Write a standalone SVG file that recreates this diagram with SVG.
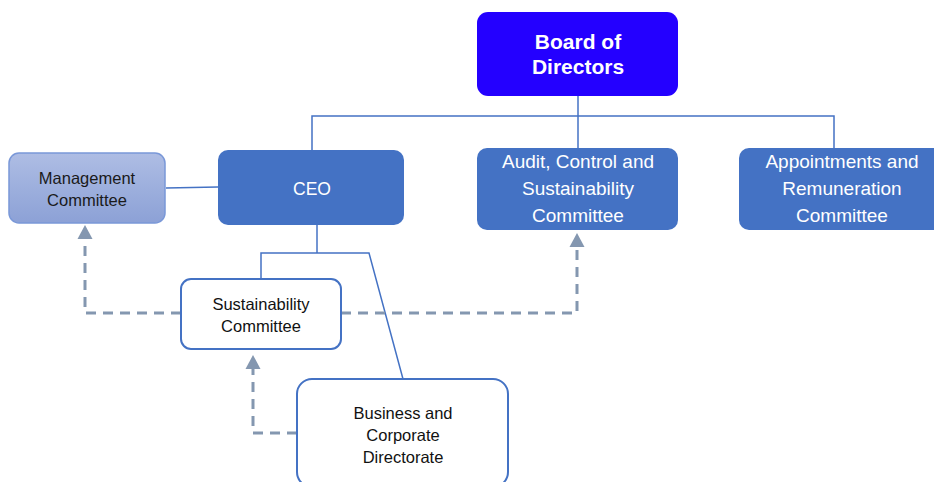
<svg xmlns="http://www.w3.org/2000/svg" width="934" height="482" viewBox="0 0 934 482">
<defs>
<linearGradient id="mg" x1="0" y1="0" x2="0" y2="1">
<stop offset="0" stop-color="#AEBDE4"/>
<stop offset="1" stop-color="#8CA1D6"/>
</linearGradient>
<style>
.t{font-family:"Liberation Sans",Arial,sans-serif;text-anchor:middle}
.w{fill:#FFFFFF}
.k{fill:#111111}
.solid{fill:#4472C4}
.outl{fill:#FFFFFF;stroke:#4472C4;stroke-width:2}
.ln{fill:none;stroke:#4472C4;stroke-width:1.5}
.ds{fill:none;stroke:#8497B0;stroke-width:3;stroke-dasharray:10 7}
.ah{fill:#8497B0}
</style>
</defs>
<rect width="934" height="482" fill="#FFFFFF"/>
<g id="connectors">
<polyline class="ln" points="578,96 578,148"/>
<polyline class="ln" points="312,150 312,116 834,116 834,148"/>
<line class="ln" x1="166" y1="188" x2="218" y2="187"/>
<polyline class="ln" points="317,225 317,253"/>
<polyline class="ln" points="261,279 261,253 369,253 403,379"/>
<polyline class="ds" points="181,313 85,313 85,239"/>
<path class="ah" d="M85,225 L92.5,239 L77.5,239 Z"/>
<polyline class="ds" points="341,313 577,313 577,247"/>
<path class="ah" d="M577,233 L584.5,247 L569.5,247 Z"/>
<polyline class="ds" points="297,433 253,433 253,369"/>
<path class="ah" d="M253,355 L260.5,369 L245.5,369 Z"/>
</g>
<g id="board">
<rect x="477" y="12" width="201" height="84" rx="11" fill="#2400FF"/>
<text class="t w" font-size="21" font-weight="bold" x="578" y="49">Board of</text>
<text class="t w" font-size="21" font-weight="bold" x="578" y="74">Directors</text>
</g>
<g id="management">
<rect x="9" y="153" width="156" height="70" rx="10" fill="url(#mg)" stroke="#7A98D8" stroke-width="1.5"/>
<text class="t" fill="#1A1A1A" font-size="16.5" x="87" y="184">Management</text>
<text class="t" fill="#1A1A1A" font-size="16.5" x="87" y="206">Committee</text>
</g>
<g id="ceo">
<rect x="218" y="150" width="186" height="75" rx="10" class="solid"/>
<text class="t w" font-size="17.5" x="312" y="195">CEO</text>
</g>
<g id="audit">
<rect x="477" y="148" width="201" height="82" rx="10" class="solid"/>
<text class="t w" font-size="19" x="578" y="168">Audit, Control and</text>
<text class="t w" font-size="19" x="578" y="195">Sustainability</text>
<text class="t w" font-size="19" x="578" y="222">Committee</text>
</g>
<g id="appointments">
<rect x="739" y="148" width="210" height="82" rx="10" class="solid"/>
<text class="t w" font-size="19" x="842" y="168">Appointments and</text>
<text class="t w" font-size="19" x="842" y="195">Remuneration</text>
<text class="t w" font-size="19" x="842" y="222">Committee</text>
</g>
<g id="sustainability">
<rect x="181" y="279" width="160" height="70" rx="10" class="outl"/>
<text class="t k" font-size="16.5" x="261" y="310">Sustainability</text>
<text class="t k" font-size="16.5" x="261" y="332">Committee</text>
</g>
<g id="business">
<rect x="297" y="379" width="211" height="108" rx="15" class="outl"/>
<text class="t k" font-size="16.5" x="403" y="419">Business and</text>
<text class="t k" font-size="16.5" x="403" y="441">Corporate</text>
<text class="t k" font-size="16.5" x="403" y="463">Directorate</text>
</g>
</svg>
